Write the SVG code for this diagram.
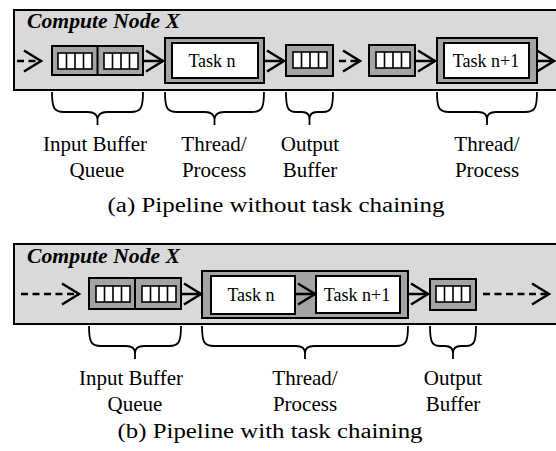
<svg xmlns="http://www.w3.org/2000/svg" width="556" height="451" viewBox="0 0 556 451">
<defs>
<style>
.panel{fill:#d9d9d9;stroke:#000;stroke-width:2}
.buf{fill:#a4a4a4;stroke:#000;stroke-width:2}
.cell{fill:#fff;stroke:#000;stroke-width:1.6}
.thr{fill:#a4a4a4;stroke:#000;stroke-width:2}
.task{fill:#fff;stroke:#000;stroke-width:2}
.arr{fill:none;stroke:#000;stroke-width:2.5}
.dash{stroke-dasharray:7 4.5}
.brace{fill:none;stroke:#000;stroke-width:1.8}
text{font-family:'Liberation Serif','Times New Roman',Times,'DejaVu Serif',serif}
.title{font-weight:bold;font-style:italic;font-size:21px}
.tt{font-size:18px;text-anchor:middle}
.lbl{font-size:21px;text-anchor:middle}
.cap{font-size:20px;text-anchor:middle}
</style>
<marker id="chev" markerUnits="userSpaceOnUse" viewBox="-20 -12 24 24" refX="0" refY="0" markerWidth="24" markerHeight="24" orient="auto" overflow="visible">
<path d="M-17,-10.5 L0,0 L-17,10.5" fill="none" stroke="#000" stroke-width="2.5"/>
</marker>
<g id="cells4">
<rect class="cell" x="0" y="0" width="34" height="16"/>
<path d="M8.5,0V16M17,0V16M25.5,0V16" stroke="#000" stroke-width="1.6"/>
</g>
</defs>

<!-- Panel a -->
<g id="panelA">
<rect class="panel" x="14" y="10" width="560" height="80"/>
<text class="title" x="27" y="28" textLength="153" lengthAdjust="spacingAndGlyphs">Compute Node X</text>
</g>
<g id="a-inbuf">
<rect class="buf" x="52" y="46" width="91" height="29"/>
<line x1="97.5" y1="46" x2="97.5" y2="75" stroke="#000" stroke-width="2"/>
<use href="#cells4" x="58" y="53"/>
<use href="#cells4" x="104" y="53"/>
</g>
<g id="a-task1">
<rect class="thr" x="165" y="38" width="99" height="45"/>
<rect class="task" x="172" y="43" width="86" height="35"/>
<text class="tt" x="212" y="67">Task n</text>
</g>
<g id="a-outbuf">
<rect class="buf" x="286" y="45" width="47" height="31"/>
<use href="#cells4" x="293" y="52"/>
</g>
<g id="a-inbuf2">
<rect class="buf" x="369" y="45" width="46" height="31"/>
<use href="#cells4" x="376" y="52"/>
</g>
<g id="a-task2">
<rect class="thr" x="437" y="38" width="100" height="45"/>
<rect class="task" x="444" y="43" width="85" height="35"/>
<text class="tt" x="486" y="67">Task n+1</text>
</g>

<!-- Panel b -->
<g id="panelB">
<rect class="panel" x="14" y="244" width="560" height="80"/>
<text class="title" x="27" y="263" textLength="153" lengthAdjust="spacingAndGlyphs">Compute Node X</text>
</g>
<g id="b-inbuf">
<rect class="buf" x="89" y="278" width="92" height="31"/>
<line x1="135" y1="278" x2="135" y2="309" stroke="#000" stroke-width="2"/>
<use href="#cells4" x="96" y="286"/>
<use href="#cells4" x="142" y="286"/>
</g>
<g id="b-chain">
<rect class="thr" x="202" y="271" width="206" height="47"/>
<rect class="task" x="211" y="276" width="84" height="38"/>
<text class="tt" x="251" y="301">Task n</text>
<rect class="task" x="316" y="276" width="84" height="37"/>
<text class="tt" x="357" y="301">Task n+1</text>
</g>
<g id="b-outbuf">
<rect class="buf" x="430" y="279" width="46" height="31"/>
<use href="#cells4" x="436" y="286"/>
</g>

<!-- Connectors -->
<g id="connectors">
<path class="arr dash" d="M17,61H41" marker-end="url(#chev)"/>
<path class="arr" d="M143,61H163" marker-end="url(#chev)"/>
<path class="arr" d="M264,61H284" marker-end="url(#chev)"/>
<path class="arr dash" d="M339,61H360" marker-end="url(#chev)"/>
<path class="arr" d="M415,61H435" marker-end="url(#chev)"/>
<path class="arr" d="M537,61H554" marker-end="url(#chev)"/>
<path class="arr dash" d="M21,294H79" marker-end="url(#chev)"/>
<path class="arr" d="M181,294H201" marker-end="url(#chev)"/>
<path class="arr" d="M295,294H315" marker-end="url(#chev)"/>
<path class="arr" d="M408,294H428" marker-end="url(#chev)"/>
<path class="arr dash" d="M483,294H549" marker-end="url(#chev)"/>
</g>

<!-- Braces and labels -->
<g id="a-labels">
<path class="brace" d="M52,92C52,108 54,112 64,112H88C94,112 97,114 97.5,119V125M143,92C143,108 141,112 131,112H107C101,112 98,114 97.5,119"/>
<path class="brace" d="M165,92C165,108 167,112 177,112H205C211,112 214,114 214.5,119V125M264,92C264,108 262,112 252,112H224C218,112 215,114 214.5,119"/>
<path class="brace" d="M286,92C286,108 288,112 296,112H302C307,112 309.5,114 309.5,119V125M333,92C333,108 331,112 323,112H317C312,112 309.5,114 309.5,119"/>
<path class="brace" d="M437,92C437,108 439,112 449,112H478C484,112 487,114 487,119V125M537,92C537,108 535,112 525,112H496C490,112 487,114 487,119"/>
<text class="lbl" x="95" y="151">Input Buffer</text>
<text class="lbl" x="97" y="177">Queue</text>
<text class="lbl" x="214" y="151">Thread/</text>
<text class="lbl" x="214" y="177">Process</text>
<text class="lbl" x="310" y="151">Output</text>
<text class="lbl" x="310" y="177">Buffer</text>
<text class="lbl" x="487" y="151">Thread/</text>
<text class="lbl" x="487" y="177">Process</text>
<text class="cap" x="276" y="212" textLength="337" lengthAdjust="spacingAndGlyphs">(a) Pipeline without task chaining</text>
</g>
<g id="b-labels">
<path class="brace" d="M89,326C89,342 91,346 101,346H126C132,346 135,348 135,353V359M181,326C181,342 179,346 169,346H144C138,346 135,348 135,353"/>
<path class="brace" d="M202,326C202,342 204,346 214,346H296C302,346 305,348 305,353V359M408,326C408,342 406,346 396,346H314C308,346 305,348 305,353"/>
<path class="brace" d="M430,326C430,342 432,346 440,346H445C450,346 453,348 453,353V359M476,326C476,342 474,346 466,346H461C456,346 453,348 453,353"/>
<text class="lbl" x="131" y="385">Input Buffer</text>
<text class="lbl" x="135" y="411">Queue</text>
<text class="lbl" x="305" y="385">Thread/</text>
<text class="lbl" x="305" y="411">Process</text>
<text class="lbl" x="453" y="385">Output</text>
<text class="lbl" x="453" y="411">Buffer</text>
<text class="cap" x="270" y="438" textLength="305" lengthAdjust="spacingAndGlyphs">(b) Pipeline with task chaining</text>
</g>
</svg>
